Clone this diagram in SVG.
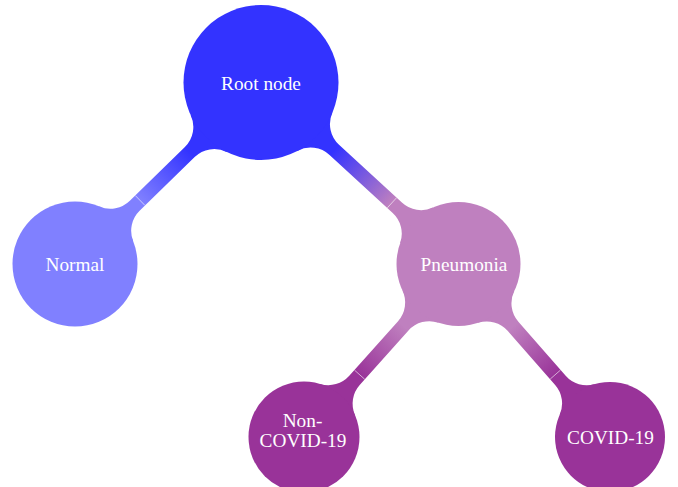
<svg xmlns="http://www.w3.org/2000/svg" width="678" height="487" viewBox="0 0 678 487">
<style>
.lbl{font-family:"Liberation Serif","Times New Roman",serif;font-size:19.3px;fill:#ffffff;text-anchor:middle}
.seam{stroke:#ffffff;stroke-width:0.8;stroke-opacity:0.75}
</style>
<defs>
<linearGradient id="g1" gradientUnits="userSpaceOnUse" x1="189.77" y1="152.01" x2="140.10" y2="200.47"><stop offset="0" stop-color="#3333ff"/><stop offset="1" stop-color="#8080ff"/></linearGradient>
<linearGradient id="g2" gradientUnits="userSpaceOnUse" x1="334.28" y1="149.85" x2="391.92" y2="202.81"><stop offset="0" stop-color="#3333ff"/><stop offset="1" stop-color="#bf80bf"/></linearGradient>
<linearGradient id="g3" gradientUnits="userSpaceOnUse" x1="403.27" y1="325.84" x2="359.62" y2="374.71"><stop offset="0" stop-color="#bf80bf"/><stop offset="1" stop-color="#993399"/></linearGradient>
<linearGradient id="g4" gradientUnits="userSpaceOnUse" x1="513.13" y1="326.38" x2="555.34" y2="374.58"><stop offset="0" stop-color="#bf80bf"/><stop offset="1" stop-color="#993399"/></linearGradient>
</defs>
<g id="connectors">
<path fill="url(#g1)" d="M226.63,151.96 A28,28 0 0 0 194.66,157.02 L139.62,210.72 A28,28 0 0 0 133.13,241.05 L75,264 L99.37,206.45 A28,28 0 0 0 129.84,200.70 L184.88,147.00 A28,28 0 0 0 190.72,115.16 L261,82.5 Z"/>
<path fill="url(#g2)" d="M332.23,113.04 A28,28 0 0 0 339.02,144.69 L402.19,202.74 A28,28 0 0 0 432.76,207.60 L458.5,264 L400.13,243.10 A28,28 0 0 0 392.71,213.05 L329.54,155.00 A28,28 0 0 0 297.44,150.90 L261,82.5 Z"/>
<path fill="url(#g3)" d="M438.44,322.66 A28,28 0 0 0 408.49,330.51 L359.72,385.12 A28,28 0 0 0 354.92,414.91 L304,437 L320.21,383.92 A28,28 0 0 0 349.28,375.79 L398.05,321.18 A28,28 0 0 0 402.47,290.54 L458.5,264 Z"/>
<path fill="url(#g4)" d="M514.27,291.09 A28,28 0 0 0 518.39,321.77 L565.68,375.77 A28,28 0 0 0 594.59,384.20 L610,437 L559.70,414.76 A28,28 0 0 0 555.15,384.99 L507.86,330.99 A28,28 0 0 0 477.99,322.86 L458.5,264 Z"/>
<line class="seam" x1="135.35" y1="195.60" x2="144.85" y2="205.34"/>
<line class="seam" x1="387.32" y1="207.82" x2="396.52" y2="197.80"/>
<line class="seam" x1="354.55" y1="370.18" x2="364.69" y2="379.24"/>
<line class="seam" x1="550.22" y1="379.06" x2="560.46" y2="370.10"/>
</g>
<g id="root">
<circle cx="261" cy="82.5" r="77.5" fill="#3333ff"/>
<text class="lbl" x="261" y="89.5">Root node</text>
</g>
<g id="normal">
<circle cx="75" cy="264" r="62.5" fill="#8080ff"/>
<text class="lbl" x="75" y="271">Normal</text>
</g>
<g id="pneumonia">
<circle cx="458.5" cy="264" r="62" fill="#bf80bf"/>
<text class="lbl" x="464" y="271">Pneumonia</text>
</g>
<g id="noncovid">
<circle cx="304" cy="437" r="55.5" fill="#993399"/>
<text class="lbl" x="302.5" y="427">Non-</text>
<text class="lbl" x="303" y="447">COVID-19</text>
</g>
<g id="covid">
<circle cx="610" cy="437" r="55" fill="#993399"/>
<text class="lbl" x="610.5" y="444">COVID-19</text>
</g>
</svg>
